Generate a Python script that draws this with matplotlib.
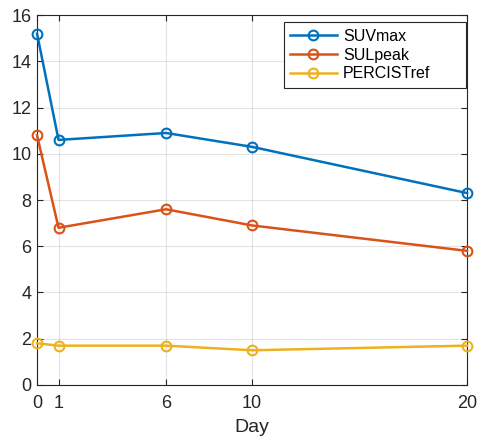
import matplotlib.pyplot as plt

days = [0, 1, 6, 10, 20]
suv_max = [15.2, 10.6, 10.9, 10.3, 8.3]
sul_peak = [10.8, 6.8, 7.6, 6.9, 5.8]
percist_ref = [1.8, 1.7, 1.7, 1.5, 1.7]

plt.rcParams['font.family'] = ['Liberation Sans', 'DejaVu Sans']
plt.rcParams['font.size'] = 13

fig = plt.figure(figsize=(4.81, 4.44), dpi=100)
ax = fig.add_axes([0.077, 0.133, 0.894, 0.833])

for vals, col, lab in [(suv_max, '#0072BD', 'SUVmax'),
                       (sul_peak, '#D95319', 'SULpeak'),
                       (percist_ref, '#EDB120', 'PERCISTref')]:
    ax.plot(days, vals, color=col, lw=1.8, marker='o', ms=7,
            mfc='none', mew=1.5, label=lab, clip_on=False, zorder=3)

ax.set_xlim(0, 20)
ax.set_ylim(0, 16)
ax.set_xticks(days)
ax.set_yticks(range(0, 17, 2))
ax.set_xlabel('Day', color='#262626', labelpad=5, fontsize=14)
ax.grid(True, color='#262626', alpha=0.12, lw=0.8)
ax.tick_params(direction='in', colors='#262626', length=4, top=True, right=True,
               labeltop=False, labelright=False)
ax.tick_params(axis='x', pad=7)
ax.tick_params(axis='y', pad=4)
for s in ax.spines.values():
    s.set_color('#262626')
    s.set_linewidth(0.8)

# MATLAB-like legend: wide box with empty space on the right
leg = ax.legend(loc='upper left', bbox_to_anchor=(0.574, 0.6, 0.424, 0.381),
                mode='expand', fancybox=False,
                framealpha=1, edgecolor='#262626', handlelength=2.9, fontsize=11.5,
                borderpad=0.4, labelspacing=0.25, handletextpad=0.4, borderaxespad=0)
leg.get_frame().set_linewidth(0.8)

fig.savefig('out.png', dpi=100)
